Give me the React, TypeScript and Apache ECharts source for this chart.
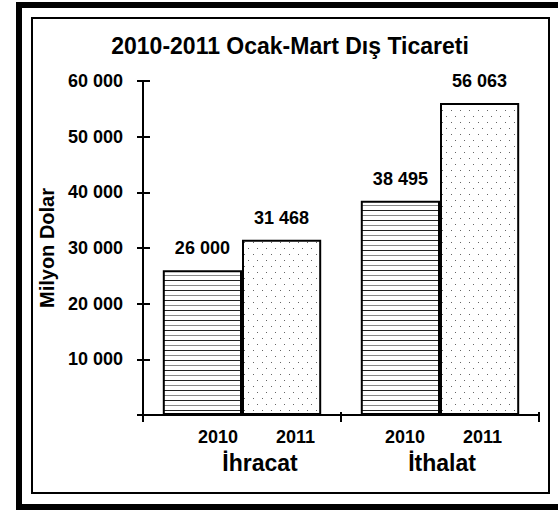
import React, { useEffect, useRef } from 'react';
import * as echarts from 'echarts';

const categories = ['İhracat', 'İthalat'];
const years = ['2010', '2011'];
const values2010 = [26000, 38495];
const values2011 = [31468, 56063];
const yMin = 0;
const yMax = 60000;
const yInterval = 10000;
const titleText = '2010-2011 Ocak-Mart Dış Ticareti';
const yAxisName = 'Milyon Dolar';

const FONT = '"Liberation Sans", Arial, sans-serif';

function fmt(v: number): string {
  return String(v).replace(/\B(?=(\d{3})+(?!\d))/g, ' ');
}

function makeStripe(): HTMLCanvasElement {
  const c = document.createElement('canvas');
  c.width = 4;
  c.height = 10;
  const ctx = c.getContext('2d')!;
  ctx.fillStyle = '#ffffff';
  ctx.fillRect(0, 0, 4, 10);
  ctx.fillStyle = '#222222';
  ctx.fillRect(0, 0, 4, 1);
  ctx.fillStyle = '#888888';
  ctx.fillRect(0, 5, 4, 1);
  return c;
}

function makeDots(): HTMLCanvasElement {
  const c = document.createElement('canvas');
  c.width = 9;
  c.height = 12;
  const ctx = c.getContext('2d')!;
  ctx.fillStyle = '#ffffff';
  ctx.fillRect(0, 0, 9, 12);
  ctx.fillStyle = '#666666';
  ctx.fillRect(1, 2, 1, 1);
  ctx.fillRect(5, 8, 1, 1);
  return c;
}

export default function App() {
  const ref = useRef<HTMLDivElement>(null);

  useEffect(() => {
    document.body.style.margin = '0';
    const chart = echarts.init(ref.current!, null, { renderer: 'svg' });
    const stripe = makeStripe();
    const dots = makeDots();
    const axisStroke = { color: '#000', width: 2 };
    const labelFmt = (v: number) => fmt(v);

    const option: any = {
      animation: false,
      backgroundColor: '#ffffff',
      textStyle: { fontFamily: FONT },
      title: {
        text: titleText,
        left: 290,
        top: 34,
        padding: 0,
        textAlign: 'center',
        textStyle: { fontSize: 23, fontWeight: 'bold', color: '#000', fontFamily: FONT },
      },
      grid: { left: 143, right: 19, top: 81, bottom: 96 },
      xAxis: [
        {
          type: 'category',
          data: categories,
          position: 'bottom',
          axisLine: { show: true, onZero: false, lineStyle: axisStroke },
          axisTick: { show: true, length: 7, lineStyle: axisStroke },
          axisLabel: {
            interval: 0,
            margin: 11,
            color: '#000',
            formatter: (value: string, index: number) => {
              const s = index === 0 ? '1' : '2';
              return `{a${s}|}{y|${years[0]}}{g|}{y|${years[1]}}\n{c${s}|}{c|${value}}`;
            },
            rich: {
              y: { fontSize: 18, fontWeight: 'bold', color: '#000', lineHeight: 22, align: 'center', fontFamily: FONT },
              c: { fontSize: 23, fontWeight: 'bold', color: '#000', lineHeight: 29, align: 'center', fontFamily: FONT },
              g: { width: 38, align: 'center' },
              a1: { width: 29, align: 'center' },
              c1: { width: 36, align: 'center' },
              a2: { width: 7, align: 'center' },
              c2: { width: 4, align: 'center' },
            },
          },
          splitLine: { show: false },
        },
        {
          type: 'category',
          data: categories,
          position: 'top',
          offset: -334,
          axisLine: { show: false, onZero: false },
          axisTick: { show: true, length: 3, lineStyle: axisStroke },
          axisLabel: { show: false },
          splitLine: { show: false },
        },
      ],
      yAxis: [
        {
          type: 'value',
          min: yMin,
          max: yMax,
          interval: yInterval,
          position: 'left',
          name: yAxisName,
          nameLocation: 'middle',
          nameRotate: 90,
          nameGap: 84,
          nameTextStyle: { fontSize: 20, fontWeight: 'bold', color: '#000', fontFamily: FONT },
          axisLine: { show: true, lineStyle: axisStroke },
          axisTick: { show: true, length: 6, lineStyle: axisStroke },
          axisLabel: {
            margin: 20,
            fontSize: 18,
            fontWeight: 'bold',
            color: '#000',
            fontFamily: FONT,
            formatter: (v: number) => (v === 0 ? '' : labelFmt(v)),
          },
          splitLine: { show: false },
        },
        {
          type: 'value',
          min: yMin,
          max: yMax,
          interval: yInterval,
          position: 'right',
          offset: -396,
          axisLine: { show: false },
          axisTick: { show: true, length: 7, lineStyle: axisStroke },
          axisLabel: { show: false },
          splitLine: { show: false },
        },
      ],
      series: [
        {
          type: 'bar',
          name: years[0],
          data: values2010,
          xAxisIndex: 0,
          yAxisIndex: 0,
          barGap: '0%',
          barCategoryGap: '20%',
          itemStyle: {
            color: { image: stripe, repeat: 'repeat', imageWidth: 4, imageHeight: 10 },
            borderColor: '#000',
            borderWidth: 2,
          },
          label: {
            show: true,
            position: 'top',
            distance: 13,
            fontSize: 18,
            fontWeight: 'bold',
            color: '#000',
            fontFamily: FONT,
            formatter: (p: any) => fmt(p.value),
          },
        },
        {
          type: 'bar',
          name: years[1],
          data: values2011,
          xAxisIndex: 0,
          yAxisIndex: 0,
          barGap: '0%',
          barCategoryGap: '20%',
          itemStyle: {
            color: { image: dots, repeat: 'repeat', imageWidth: 9, imageHeight: 12 },
            borderColor: '#000',
            borderWidth: 2,
          },
          label: {
            show: true,
            position: 'top',
            distance: 13,
            fontSize: 18,
            fontWeight: 'bold',
            color: '#000',
            fontFamily: FONT,
            formatter: (p: any) => fmt(p.value),
          },
        },
      ],
      graphic: [
        {
          type: 'rect',
          silent: true,
          shape: { x: 19, y: 5, width: 560, height: 502 },
          style: { fill: 'none', stroke: '#000', lineWidth: 6 },
        },
        {
          type: 'rect',
          silent: true,
          shape: { x: 32, y: 18, width: 517, height: 475 },
          style: { fill: 'none', stroke: '#000', lineWidth: 2 },
        },
      ],
    };

    chart.setOption(option);
    return () => chart.dispose();
  }, []);

  return <div ref={ref} style={{ width: 558, height: 511 }} />;
}
